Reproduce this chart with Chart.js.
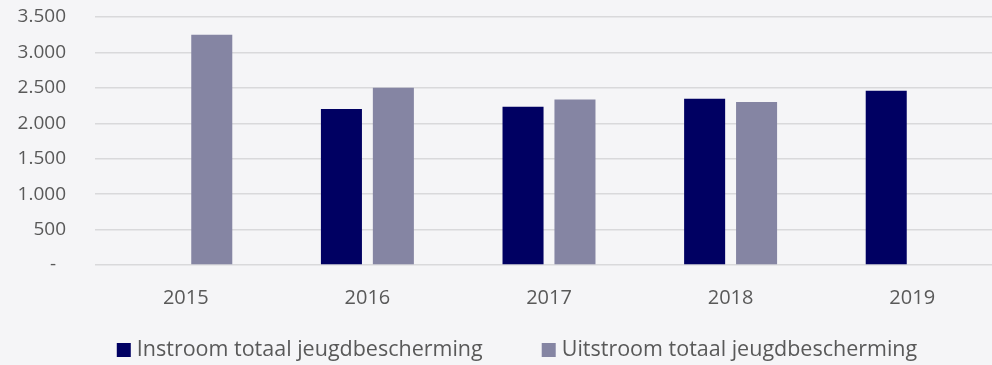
<!DOCTYPE html>
<html lang="nl">
<head>
<meta charset="utf-8">
<script src="https://cdn.jsdelivr.net/npm/chart.js@4.4.1/dist/chart.umd.min.js"></script>
<style>
  html, body { margin: 0; padding: 0; background: #f5f5f7; overflow: hidden; }
  #wrap { position: relative; width: 1034px; height: 365px; }
</style>
</head>
<body>
<div id="wrap"><canvas id="c"></canvas></div>
<script>
// Jaren en aantallen jeugdbescherming (in- en uitstroom)
const years = ['2015', '2016', '2017', '2018', '2019'];
const instroom = [null, 2200, 2235, 2345, 2460];
const uitstroom = [3250, 2500, 2335, 2300, null];

const textColor = '#595959';
const fontFamily = '"Open Sans", Lato, sans-serif';
const tickSize = 19;
const legendSize = 21.5;

function fmt(v) {
  if (v === 0) return '-  ';
  return String(v).replace(/\B(?=(\d{3})+(?!\d))/g, '.');
}

// Legend below the chart: square marker, label, wide spacing between items
const bottomLegend = {
  id: 'bottomLegend',
  afterDraw(chart) {
    const ctx = chart.ctx;
    ctx.save();
    ctx.font = legendSize + 'px ' + fontFamily;
    ctx.textBaseline = 'middle';
    ctx.textAlign = 'left';
    const box = 14, gap = 6, spacing = 59;
    const items = chart.data.datasets.map(ds => ({
      text: ds.label,
      color: ds.backgroundColor,
      w: ctx.measureText(ds.label).width
    }));
    const total = items.reduce((s, it) => s + box + gap + it.w, 0) + spacing * (items.length - 1);
    let x = chart.width / 2 - total / 2;
    const y = chart.height - 15;
    items.forEach(it => {
      ctx.fillStyle = it.color;
      ctx.fillRect(x, y - box / 2, box, box);
      ctx.fillStyle = textColor;
      ctx.fillText(it.text, x + box + gap, y);
      x += box + gap + it.w + spacing;
    });
    ctx.restore();
  }
};

new Chart(document.getElementById('c'), {
  type: 'bar',
  data: {
    labels: years,
    datasets: [
      { label: 'Instroom totaal jeugdbescherming', data: instroom, backgroundColor: '#000062' },
      { label: 'Uitstroom totaal jeugdbescherming', data: uitstroom, backgroundColor: '#8585a3' }
    ]
  },
  plugins: [bottomLegend],
  options: {
    responsive: true,
    maintainAspectRatio: false,
    animation: false,
    categoryPercentage: 0.572,
    barPercentage: 0.79,
    layout: { padding: { left: 0, right: 31, top: 17, bottom: 40 } },
    plugins: {
      tooltip: { enabled: false },
      legend: { display: false }
    },
    scales: {
      x: {
        afterFit: (s) => { s.height = 60; },
        grid: { display: false, drawTicks: false },
        border: { display: false },
        ticks: { color: textColor, padding: 21, maxRotation: 0, font: { family: fontFamily, size: 20 } }
      },
      y: {
        min: 0,
        max: 3500,
        afterFit: (s) => { s.width = 95; s.paddingTop = 0; s.paddingBottom = 0; },
        grid: { color: '#d9d9db', lineWidth: 1.5, drawTicks: false },
        border: { display: false },
        ticks: {
          stepSize: 500,
          autoSkip: false,
          color: textColor,
          padding: 29,
          font: { family: fontFamily, size: tickSize },
          callback: (v) => fmt(v)
        }
      }
    }
  }
});
</script>
</body>
</html>
